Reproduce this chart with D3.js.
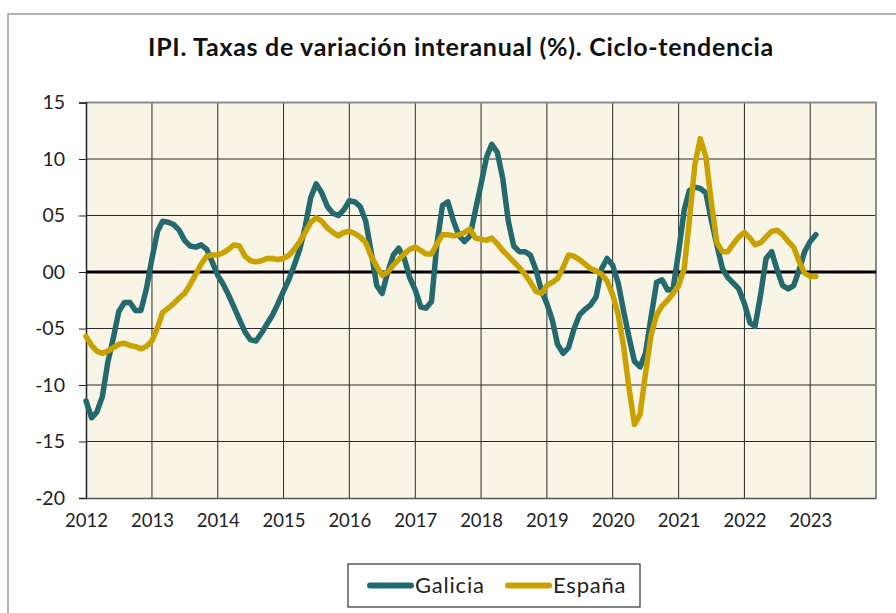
<!DOCTYPE html>
<html>
<head>
<meta charset="utf-8">
<script src="https://cdn.jsdelivr.net/npm/d3@7"></script>
<style>
  body { margin: 0; background: #fff; }
  svg { display: block; font-family: Lato, "Open Sans", sans-serif; }
</style>
</head>
<body>
<svg id="chart" width="896" height="613"></svg>
<script>
// monthly values, Jan 2012 .. Feb 2023
const firstMonth = "2012-01"

const galicia = [
  -11.4, -12.9, -12.4, -11.0, -8.0, -5.8, -3.5, -2.7, -2.7, -3.4, -3.4, -1.5,
  1.2, 3.6, 4.5, 4.4, 4.2, 3.7, 2.8, 2.3, 2.2, 2.4, 2.0, 0.9,
  -0.3, -1.1, -2.0, -3.1, -4.2, -5.3, -6.0, -6.1, -5.4, -4.6, -3.8, -2.8,
  -1.7, -0.6, 0.6, 2.0, 4.0, 6.6, 7.8, 7.0, 5.8, 5.2, 5.0, 5.5,
  6.3, 6.2, 5.8, 4.5, 1.8, -1.2, -1.9, 0.0, 1.5, 2.1, 1.2, -0.5,
  -1.6, -3.1, -3.2, -2.6, 2.5, 5.9, 6.2, 4.5, 3.2, 2.7, 3.2, 5.5,
  7.8, 10.2, 11.3, 10.6, 8.3, 4.5, 2.3, 1.8, 1.8, 1.5, 0.2, -1.6,
  -2.8, -4.3, -6.4, -7.2, -6.7, -5.0, -3.8, -3.3, -2.9, -2.2, 0.3, 1.2,
  0.6, -1.0, -3.4, -5.8, -7.9, -8.4, -7.2, -4.0, -0.9, -0.7, -1.6, -1.5,
  1.8, 5.5, 7.2, 7.5, 7.4, 7.0, 4.6, 2.4, 0.3, -0.5, -1.0, -1.5,
  -2.8, -4.5, -4.8, -2.0, 1.2, 1.8, 0.2, -1.2, -1.5, -1.2, 0.2, 1.8,
  2.7, 3.3
]

const espana = [
  -5.7, -6.5, -7.0, -7.2, -7.0, -6.7, -6.4, -6.3, -6.5, -6.6, -6.8, -6.6,
  -6.1, -4.9, -3.6, -3.2, -2.8, -2.3, -1.9, -1.1, -0.2, 0.7, 1.4, 1.5,
  1.5, 1.7, 2.0, 2.4, 2.3, 1.4, 1.0, 0.9, 1.0, 1.2, 1.2, 1.1,
  1.2, 1.5, 2.0, 2.7, 3.5, 4.4, 4.8, 4.5, 3.9, 3.5, 3.2, 3.5,
  3.6, 3.4, 3.1, 2.6, 1.4, 0.5, -0.3, 0.0, 0.6, 1.1, 1.6, 2.0,
  2.2, 1.9, 1.6, 1.6, 2.5, 3.3, 3.3, 3.2, 3.3, 3.5, 3.8, 3.0,
  2.9, 2.8, 3.0, 2.5, 1.9, 1.4, 0.9, 0.4, -0.2, -0.9, -1.7, -1.9,
  -1.2, -0.9, -0.6, 0.4, 1.5, 1.4, 1.1, 0.7, 0.3, 0.1, -0.2, -0.8,
  -2.0, -3.8, -6.5, -10.3, -13.5, -12.6, -9.0, -5.6, -3.8, -3.0, -2.5, -1.9,
  -1.2, 0.3, 4.5, 9.5, 11.8, 10.2, 6.2, 2.6, 1.8, 1.8, 2.5, 3.1,
  3.5, 3.0, 2.4, 2.6, 3.1, 3.6, 3.7, 3.3, 2.7, 2.2, 0.9, -0.1,
  -0.4, -0.4
]

const seriesNames = ["Galicia", "España"]
const seriesColors = ["#226a6d", "#c9a200"]

const yTicks = [-20, -15, -10, -5, 0, 5, 10, 15]
const yTickLabels = ["-20", "-15", "-10", "-05", "00", "05", "10", "15"]
const xYears = [2012, 2013, 2014, 2015, 2016, 2017, 2018, 2019, 2020, 2021, 2022, 2023]

const titleText = "IPI. Taxas de variación interanual (%). Ciclo-tendencia"

const svg = d3.select("#chart")
const plotLeft = 86, plotRight = 876, plotTop = 102.5, plotBottom = 498

// outer frame
svg.append("rect")
  .attr("x", 8).attr("y", 14)
  .attr("width", 1000).attr("height", 1000)
  .attr("fill", "#fff")
  .attr("stroke", "#9a9a9a")
  .attr("stroke-width", 1.5)

svg.append("text")
  .attr("x", 461).attr("y", 56)
  .attr("text-anchor", "middle")
  .attr("font-size", 25)
  .attr("font-weight", "bold")
  .attr("letter-spacing", 0.7)
  .attr("fill", "#111")
  .text(titleText)

const parseMonth = d3.timeParse("%Y-%m")
const start = parseMonth(firstMonth)
const monthDate = i => d3.timeMonth.offset(start, i)

const xRange = d3.scaleTime()
  .domain([new Date(2012, 0, 1), new Date(2024, 0, 1)])
  .range([plotLeft, plotRight])

const yRange = d3.scaleLinear()
  .domain([-20, 15])
  .range([plotBottom, plotTop])

// plot background
svg.append("rect")
  .attr("x", plotLeft).attr("y", plotTop)
  .attr("width", plotRight - plotLeft).attr("height", plotBottom - plotTop)
  .attr("fill", "#f8f4e6")

// grid
const grid = svg.append("g")
grid.selectAll("line.h")
  .data(yTicks.filter(d => d != 0 && d != -20))
  .join("line")
  .attr("x1", plotLeft).attr("x2", plotRight)
  .attr("y1", d => yRange(d)).attr("y2", d => yRange(d))
  .attr("stroke", "#2a2a2a").attr("stroke-width", 1)

grid.selectAll("line.v")
  .data(xYears.slice(1))
  .join("line")
  .attr("x1", d => xRange(new Date(d, 0, 1))).attr("x2", d => xRange(new Date(d, 0, 1)))
  .attr("y1", plotTop).attr("y2", plotBottom)
  .attr("stroke", "#2a2a2a").attr("stroke-width", 1)

// top / right border
svg.append("path")
  .attr("d", `M${plotLeft},${plotTop}H${plotRight}V${plotBottom}`)
  .attr("fill", "none")
  .attr("stroke", "#8c8c8c").attr("stroke-width", 2)

// y axis
const yAxis = svg.append("g")
  .attr("transform", `translate(${plotLeft},0)`)
  .call(d3.axisLeft(yRange)
    .tickValues(yTicks)
    .tickSize(7)
    .tickPadding(14)
    .tickFormat((d, i) => yTickLabels[i]))
yAxis.select(".domain").attr("stroke", "#222").attr("stroke-width", 1.5)
yAxis.selectAll(".tick line").attr("stroke", "#222")
yAxis.selectAll("text")
  .attr("font-size", 19.5)
  .attr("font-family", "Lato, sans-serif")
  .attr("fill", "#222")

// x axis
const xAxis = svg.append("g")
  .attr("transform", `translate(0,${plotBottom})`)
  .call(d3.axisBottom(xRange)
    .tickValues(xYears.map(y => new Date(y, 0, 1)))
    .tickSize(0)
    .tickPadding(16)
    .tickFormat(d3.timeFormat("%Y")))
xAxis.select(".domain").attr("stroke", "#555").attr("stroke-width", 1.5)
xAxis.selectAll("text")
  .attr("font-size", 18.5)
  .attr("font-family", "Lato, sans-serif")
  .attr("fill", "#222")

// zero line
svg.append("line")
  .attr("x1", plotLeft).attr("x2", plotRight)
  .attr("y1", yRange(0)).attr("y2", yRange(0))
  .attr("stroke", "#000").attr("stroke-width", 3)

// series
const line = d3.line()
  .x((d, i) => xRange(monthDate(i)))
  .y(d => yRange(d))

;[galicia, espana].forEach((values, k) => {
  svg.append("path")
    .datum(values)
    .attr("fill", "none")
    .attr("stroke", seriesColors[k])
    .attr("stroke-width", 5.5)
    .attr("stroke-linejoin", "round")
    .attr("stroke-linecap", "round")
    .attr("d", line)
})

// legend
const legend = svg.append("g")
legend.append("rect")
  .attr("x", 348).attr("y", 564)
  .attr("width", 292).attr("height", 43)
  .attr("fill", "#fff")
  .attr("stroke", "#333").attr("stroke-width", 1.2)

const legendX = [370, 508]
seriesNames.forEach((name, k) => {
  legend.append("line")
    .attr("x1", legendX[k]).attr("x2", legendX[k] + 41)
    .attr("y1", 585.5).attr("y2", 585.5)
    .attr("stroke", seriesColors[k])
    .attr("stroke-width", 6)
    .attr("stroke-linecap", "round")
  legend.append("text")
    .attr("x", legendX[k] + 45).attr("y", 593)
    .attr("font-size", 22)
    .attr("letter-spacing", 0.8)
    .attr("fill", "#222")
    .text(name)
})
</script>
</body>
</html>
